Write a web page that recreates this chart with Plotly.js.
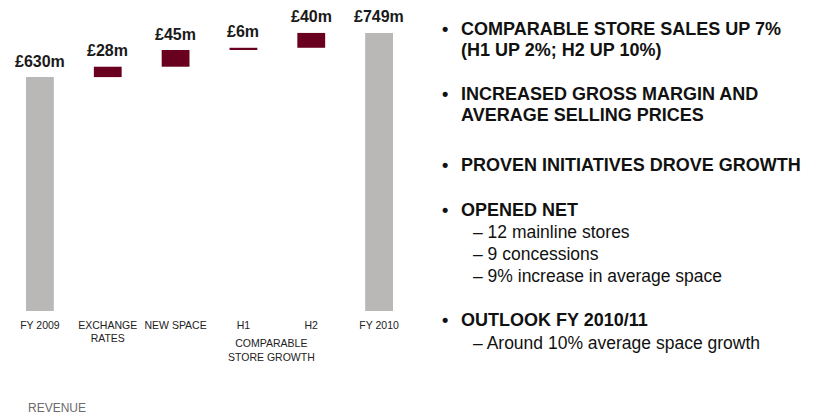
<!DOCTYPE html>
<html>
<head>
<meta charset="utf-8">
<script src="https://cdn.plot.ly/plotly-3.0.1.min.js"></script>
<style>html,body{margin:0;padding:0;background:#fff;}#chart{width:818px;height:416px;}</style>
</head>
<body>
<div id="chart"></div>
<script>
// ---- data ----
const categories = ['FY 2009', 'EXCHANGE<br>RATES', 'NEW SPACE', 'H1', 'H2', 'FY 2010'];
const measures = ['absolute', 'relative', 'relative', 'relative', 'relative', 'total'];
const values = [630, 28, 45, 6, 40, 749];
const valueLabels = ['£630m', '£28m', '£45m', '£6m', '£40m', '£749m'];
const groupLabel = 'COMPARABLE<br>STORE GROWTH';
const footLabel = 'REVENUE';
const bulletLines = [
  {kind: 'bold', bullet: true, text: 'COMPARABLE STORE SALES UP 7%'},
  {kind: 'bold', bullet: false, text: '(H1 UP 2%; H2 UP 10%)'},
  {kind: 'bold', bullet: true, text: 'INCREASED GROSS MARGIN AND'},
  {kind: 'bold', bullet: false, text: 'AVERAGE SELLING PRICES'},
  {kind: 'bold', bullet: true, text: 'PROVEN INITIATIVES DROVE GROWTH'},
  {kind: 'bold', bullet: true, text: 'OPENED NET'},
  {kind: 'sub', bullet: false, text: '– 12 mainline stores'},
  {kind: 'sub', bullet: false, text: '– 9 concessions'},
  {kind: 'sub', bullet: false, text: '– 9% increase in average space'},
  {kind: 'bold', bullet: true, text: 'OUTLOOK FY 2010/11'},
  {kind: 'sub', bullet: false, text: '– Around 10% average space growth'}
];

// ---- layout geometry (pixels) ----
const W = 818, H = 416;
const M = {l: 6, r: 405, t: 14, b: 105};
const plotW = W - M.l - M.r, plotH = H - M.t - M.b;
const px = x => (x - M.l) / plotW;
const py = y => (H - M.b - y) / plotH;
const lineY = [29, 49.6, 94.2, 114.8, 165, 209.5, 232, 254, 276, 320, 343];

const FONT = 'Liberation Sans, Arial, sans-serif';
const MAROON = '#6a0020';
const GREY = '#b9b8b6';

// running tops for labels
const tops = [];
let run = 0;
values.forEach((v, i) => {
  if (measures[i] === 'absolute') run = v;
  else if (measures[i] === 'relative') run += v;
  tops.push(run);
});

const annotations = [];
valueLabels.forEach((t, i) => {
  annotations.push({
    x: categories[i], y: tops[i], xref: 'x', yref: 'y',
    text: t, showarrow: false, xanchor: 'center', yanchor: 'middle', yshift: 16,
    font: {family: FONT, size: 16, color: '#1a1a1a', weight: 'bold'}
  });
});
annotations.push({
  x: 3.42, y: py(349.5), xref: 'x', yref: 'paper', text: groupLabel, showarrow: false,
  xanchor: 'center', yanchor: 'middle', font: {family: FONT, size: 10.5, color: '#222'}
});
annotations.push({
  x: px(26), y: py(407.5), xref: 'paper', yref: 'paper', text: footLabel, showarrow: false,
  xanchor: 'left', yanchor: 'middle', font: {family: FONT, size: 12, color: '#6b6b6b'}
});
bulletLines.forEach((ln, i) => {
  const y = py(lineY[i]);
  if (ln.bullet) {
    annotations.push({
      x: px(441), y: y, xref: 'paper', yref: 'paper', text: '•', showarrow: false, borderpad: 0,
      xanchor: 'left', yanchor: 'middle', font: {family: FONT, size: 18, color: '#111', weight: 'bold'}
    });
  }
  const bold = ln.kind === 'bold';
  annotations.push({
    x: px(bold ? 460 : 472), y: y, xref: 'paper', yref: 'paper', text: ln.text, showarrow: false,
    xanchor: 'left', yanchor: 'middle', borderpad: 0,
    font: {family: FONT, size: bold ? 18 : 17.5, color: '#111', weight: bold ? 'bold' : 'normal'}
  });
});

const trace = {
  type: 'waterfall',
  x: categories,
  y: values,
  measure: measures,
  width: 0.41,
  increasing: {marker: {color: MAROON}},
  decreasing: {marker: {color: MAROON}},
  totals: {marker: {color: GREY}},
  connector: {visible: false},
  textinfo: 'none',
  hoverinfo: 'skip'
};

const layout = {
  width: W, height: H,
  margin: M,
  paper_bgcolor: '#fff', plot_bgcolor: '#fff',
  showlegend: false,
  font: {family: FONT},
  xaxis: {
    type: 'category', range: [-0.5, 5.5], showgrid: false, zeroline: false, showline: false,
    ticks: '', ticklabelstandoff: 6, tickfont: {family: FONT, size: 10.5, color: '#222'}, fixedrange: true
  },
  yaxis: {range: [0, 800], visible: false, showgrid: false, zeroline: false, fixedrange: true},
  annotations: annotations
};

Plotly.newPlot('chart', [trace], layout, {displayModeBar: false, staticPlot: true});
</script>
</body>
</html>
